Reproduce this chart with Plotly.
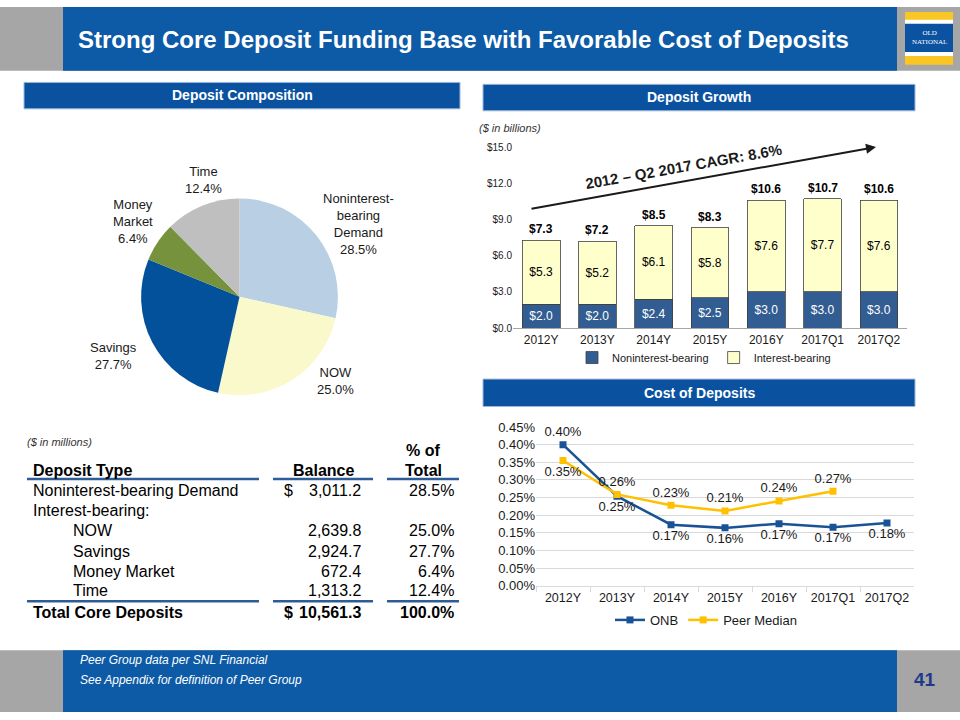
import plotly.graph_objects as go

W, H = 960, 720
def px(x): return x / W
def py(y): return 1 - y / H

FONT = "Arial, Liberation Sans, sans-serif"

# ---------------- data ----------------
pie_labels = ["Noninterest-bearing Demand", "NOW", "Savings", "Money Market", "Time"]
pie_label_text = ["Noninterest-<br>bearing<br>Demand", "NOW", "Savings", "Money<br>Market", "Time"]
pie_values = [28.5, 25.0, 27.7, 6.4, 12.4]
pie_colors = ["#B9CFE4", "#FAF9CC", "#03519A", "#76923C", "#BFBFBF"]

years = ["2012Y", "2013Y", "2014Y", "2015Y", "2016Y", "2017Q1", "2017Q2"]
nonint = [2.0, 2.0, 2.4, 2.5, 3.0, 3.0, 3.0]
intbear = [5.3, 5.2, 6.1, 5.8, 7.6, 7.7, 7.6]
totals = [7.3, 7.2, 8.5, 8.3, 10.6, 10.7, 10.6]

onb = [0.400, 0.254, 0.173, 0.164, 0.176, 0.166, 0.178]
onb_labels = ["0.40%", "0.25%", "0.17%", "0.16%", "0.17%", "0.17%", "0.18%"]
peer = [0.355, 0.259, 0.228, 0.212, 0.240, 0.268]
peer_labels = ["0.35%", "0.26%", "0.23%", "0.21%", "0.24%", "0.27%"]

table_types = ["Noninterest-bearing Demand", "Interest-bearing:", "NOW", "Savings", "Money Market", "Time"]
table_balance = [3011.2, None, 2639.8, 2924.7, 672.4, 1313.2]
table_pct = [28.5, None, 25.0, 27.7, 6.4, 12.4]
total_balance = 10561.3
total_pct = 100.0

fig = go.Figure()

# ---------------- pie ----------------
cx, cy, r = 239.5, 296, 100.5
fig.add_trace(go.Pie(
    labels=pie_labels, values=pie_values, sort=False, direction="clockwise", rotation=0,
    marker=dict(colors=pie_colors, line=dict(width=0)),
    textinfo="none", hoverinfo="label+percent", showlegend=False,
    domain=dict(x=[px(cx - r), px(cx + r)], y=[py(cy + r), py(cy - r)]),
))

# ---------------- bars ----------------
fig.add_trace(go.Bar(
    x=years, y=nonint, name="Noninterest-bearing",
    marker=dict(color="#325D92", line=dict(color="#404040", width=0.8)),
    texttemplate="$%{y:.1f}", textposition="inside", insidetextanchor="middle",
    textfont=dict(color="white", size=12, family=FONT), textangle=0,
    xaxis="x", yaxis="y", legend="legend",
))
fig.add_trace(go.Bar(
    x=years, y=intbear, name="Interest-bearing",
    marker=dict(color="#FFFFCC", line=dict(color="#404040", width=0.8)),
    texttemplate="$%{y:.1f}", textposition="inside", insidetextanchor="middle",
    textfont=dict(color="black", size=12, family=FONT), textangle=0,
    xaxis="x", yaxis="y", legend="legend",
))

# ---------------- lines ----------------
onb_pos = ["top center"] + ["bottom center"] * 6
peer_pos = ["bottom center"] + ["top center"] * 5
fig.add_trace(go.Scatter(
    x=years, y=onb, name="ONB", mode="lines+markers+text", text=onb_labels,
    textposition=onb_pos, textfont=dict(size=13, color="#1a1a1a", family=FONT),
    line=dict(color="#1A5296", width=2.5), marker=dict(symbol="square", size=7, color="#1A5296"),
    xaxis="x2", yaxis="y2", legend="legend2",
))
fig.add_trace(go.Scatter(
    x=years[:6], y=peer, name="Peer Median", mode="lines+markers+text", text=peer_labels,
    textposition=peer_pos, textfont=dict(size=13, color="#1a1a1a", family=FONT),
    line=dict(color="#FFC000", width=2.5), marker=dict(symbol="square", size=7, color="#FFC000"),
    xaxis="x2", yaxis="y2", legend="legend2",
))

shapes = []
ann = []

# bar totals (placed through the data axes)
for yr, t in zip(years, totals):
    ann.append(dict(text=f"<b>${t:.1f}</b>", x=yr, y=t, xref="x", yref="y", yshift=11,
                    font=dict(family=FONT, size=12, color="black")))

# header / footer bands
shapes += [
    dict(type="rect", xref="paper", yref="paper", x0=0, x1=1, y0=py(65), y1=1, fillcolor="#A6A6A6", line=dict(width=0), layer="below"),
    dict(type="rect", xref="paper", yref="paper", x0=px(63), x1=px(897), y0=py(65), y1=1, fillcolor="#0D5AA6", line=dict(width=0), layer="below"),
    dict(type="rect", xref="paper", yref="paper", x0=0, x1=1, y0=0, y1=py(657), fillcolor="#A6A6A6", line=dict(width=0), layer="below"),
    dict(type="rect", xref="paper", yref="paper", x0=px(63), x1=px(897), y0=0, y1=py(657), fillcolor="#0D5AA6", line=dict(width=0), layer="below"),
    # logo
    dict(type="rect", xref="paper", yref="paper", x0=px(905), x1=px(953), y0=py(59), y1=py(5), fillcolor="#F9C623", line=dict(width=0)),
    dict(type="rect", xref="paper", yref="paper", x0=px(905), x1=px(953), y0=py(50), y1=py(13), fillcolor="white", line=dict(width=0)),
    dict(type="rect", xref="paper", yref="paper", x0=px(905), x1=px(953), y0=py(46), y1=py(17), fillcolor="#0B52A0", line=dict(width=0)),
    # section boxes
    dict(type="rect", xref="paper", yref="paper", x0=px(24), x1=px(460), y0=py(104), y1=py(77), fillcolor="#0A52A0", line=dict(width=1, color="#9DB7D8")),
    dict(type="rect", xref="paper", yref="paper", x0=px(483), x1=px(915), y0=py(106), y1=py(79), fillcolor="#0A52A0", line=dict(width=1, color="#9DB7D8")),
    dict(type="rect", xref="paper", yref="paper", x0=px(483), x1=px(915), y0=py(408), y1=py(380), fillcolor="#0A52A0", line=dict(width=1, color="#9DB7D8")),
]

ann += [
    dict(text="<b>Strong Core Deposit Funding Base with Favorable Cost of Deposits</b>", x=px(463), y=py(33),
         font=dict(family=FONT, size=24, color="white")),
    dict(text="OLD<br>NATIONAL", x=px(929), y=py(31), font=dict(family="Liberation Serif, serif", size=7, color="white")),
    dict(text="<b>Deposit Composition</b>", x=px(242), y=py(90), font=dict(family=FONT, size=14, color="white")),
    dict(text="<b>Deposit Growth</b>", x=px(699), y=py(92), font=dict(family=FONT, size=14, color="white")),
    dict(text="<b>Cost of Deposits</b>", x=px(699), y=py(394), font=dict(family=FONT, size=14, color="white")),
    dict(text="<i>Peer Group data per SNL Financial</i>", x=px(78), y=py(667), xanchor="left",
         font=dict(family=FONT, size=12, color="white")),
    dict(text="<i>See Appendix for definition of Peer Group</i>", x=px(78), y=py(687), xanchor="left",
         font=dict(family=FONT, size=12, color="white")),
    dict(text="<b>41</b>", x=px(925), y=py(687), font=dict(family=FONT, size=19, color="#1F3A8A")),
]

# pie labels
pie_lbl_pos = [(358, 222), (335, 382), (113, 356), (133, 219), (203, 177)]
for lab, val, (lx, ly) in zip(pie_label_text, pie_values, pie_lbl_pos):
    ann.append(dict(text=f"{lab}<br>{val:.1f}%", x=px(lx), y=py(ly),
                    font=dict(family=FONT, size=13, color="#1a1a1a")))

# bar chart extras
ann += [
    dict(text="<i>($ in billions)</i>", x=px(477), y=py(124), xanchor="left", font=dict(family=FONT, size=11, color="#333")),
    dict(text="", x=px(876), y=py(143), ax=530 - 876, ay=205 - 143, axref="pixel", ayref="pixel",
         showarrow=True, arrowhead=2, arrowsize=1, arrowwidth=2, arrowcolor="#1a1a1a"),
    dict(text="<b>2012 – Q2 2017 CAGR: 8.6%</b>", x=px(683), y=py(163), textangle=-10,
         font=dict(family=FONT, size=15, color="#1a1a1a")),
]

# table
ann.append(dict(text="<i>($ in millions)</i>", x=px(25), y=py(444), xanchor="left", font=dict(family=FONT, size=11, color="#333")))
hdr = dict(family=FONT, size=16, color="black")
ann += [
    dict(text="<b>Deposit Type</b>", x=px(31), y=py(473), xanchor="left", font=hdr),
    dict(text="<b>Balance</b>", x=px(323), y=py(473), font=hdr),
    dict(text="<b>% of</b>", x=px(423), y=py(453), font=hdr),
    dict(text="<b>Total</b>", x=px(423), y=py(473), font=hdr),
]
row_y = [494, 514, 535, 556, 576, 596]
for i, (t, b, p, yy) in enumerate(zip(table_types, table_balance, table_pct, row_y)):
    indent = 71 if i >= 2 else 31
    ann.append(dict(text=t, x=px(indent), y=py(yy), xanchor="left", font=hdr))
    if b is not None:
        ann.append(dict(text=f"{b:,.1f}", x=px(363), y=py(yy), xanchor="right", font=hdr))
    if p is not None:
        ann.append(dict(text=f"{p:.1f}%", x=px(456), y=py(yy), xanchor="right", font=hdr))
    if i == 0:
        ann.append(dict(text="$", x=px(282), y=py(yy), xanchor="left", font=hdr))
ann += [
    dict(text="<b>Total Core Deposits</b>", x=px(31), y=py(618), xanchor="left", font=hdr),
    dict(text="<b>$</b>", x=px(282), y=py(618), xanchor="left", font=hdr),
    dict(text=f"<b>{total_balance:,.1f}</b>", x=px(363), y=py(618), xanchor="right", font=hdr),
    dict(text=f"<b>{total_pct:.1f}%</b>", x=px(456), y=py(618), xanchor="right", font=hdr),
]
for yy in (482, 607):
    for (a, b) in ((27, 259), (273, 373), (387, 459)):
        shapes.append(dict(type="line", xref="paper", yref="paper", x0=px(a), x1=px(b), y0=py(yy), y1=py(yy),
                           line=dict(color="#2E5C97", width=2.5)))

for a in ann:
    a.setdefault("xref", "paper")
    a.setdefault("yref", "paper")
    a.setdefault("xanchor", "center")
    a.setdefault("yanchor", "middle")
    a.setdefault("showarrow", False)

fig.update_layout(
    width=W, height=H, margin=dict(l=0, r=0, t=0, b=0),
    paper_bgcolor="white", plot_bgcolor="rgba(0,0,0,0)",
    barmode="stack", bargap=0.33,
    font=dict(family=FONT, color="#1a1a1a"),
    shapes=shapes, annotations=ann,
    xaxis=dict(domain=[px(513), px(907)], range=[-0.5, 6.5], showgrid=False, showline=True,
               linecolor="#A6A6A6", ticks="", tickangle=0, tickfont=dict(size=12, color="#1a1a1a"),
               anchor="y", fixedrange=True),
    yaxis=dict(domain=[py(328), py(143)], range=[0, 15], dtick=3, tickprefix="$", tickformat=".1f",
               showgrid=False, zeroline=False, showline=False, tickfont=dict(size=10, color="#1a1a1a"),
               anchor="x", fixedrange=True),
    xaxis2=dict(domain=[px(536), px(914)], range=[-0.5, 6.5], showgrid=False, showline=True,
                linecolor="#D9D9D9", ticks="outside", tickson="boundaries", ticklen=5, tickcolor="#D9D9D9",
                tickangle=0, tickfont=dict(size=12.5, color="#1a1a1a"), anchor="y2", fixedrange=True),
    yaxis2=dict(domain=[py(591), py(429)], range=[0, 0.45], dtick=0.05, tickformat=".2f", ticksuffix="%",
                showgrid=True, gridcolor="#D9D9D9", zeroline=False, showline=False,
                tickfont=dict(size=13, color="#1a1a1a"), anchor="x2", fixedrange=True),
    legend=dict(orientation="h", x=px(704), y=py(358), xanchor="center", yanchor="middle",
                font=dict(size=11, color="#1a1a1a"), bgcolor="rgba(0,0,0,0)", itemwidth=30,
                traceorder="normal"),
    legend2=dict(orientation="h", x=px(706), y=py(626), xanchor="center", yanchor="middle",
                 font=dict(size=13, color="#1a1a1a"), bgcolor="rgba(0,0,0,0)", itemwidth=30),
)

fig.write_html("out.html", config={"displayModeBar": False},
               post_script="document.body.style.margin='0';")
